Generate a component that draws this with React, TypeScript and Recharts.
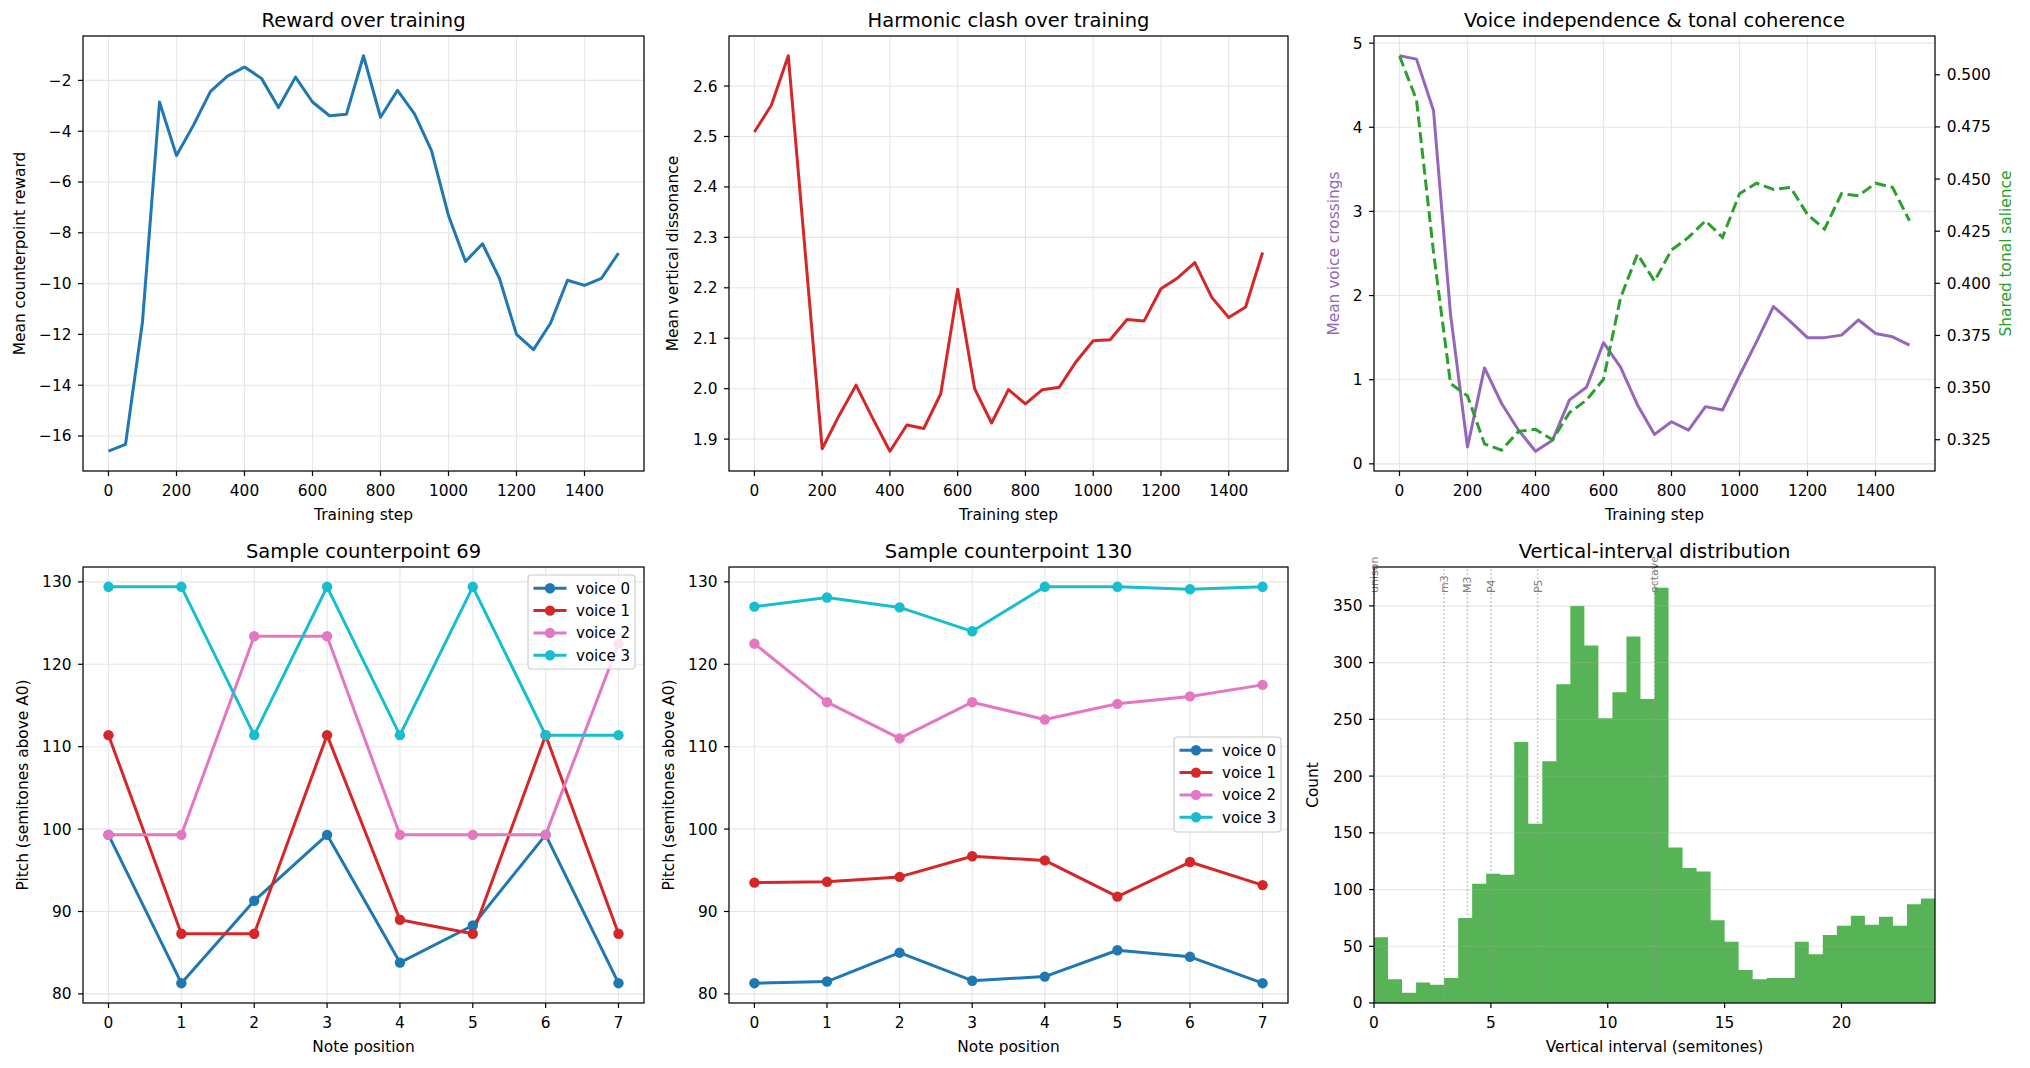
import React from "react"
import { Area, CartesianGrid, ComposedChart, Line, LineChart, ReferenceLine, XAxis, YAxis } from "recharts"

// training curves, logged every 50 steps
const steps = [0, 50, 100, 150, 200, 250, 300, 350, 400, 450, 500, 550, 600, 650, 700, 750, 800, 850, 900, 950, 1000, 1050, 1100, 1150, 1200, 1250, 1300, 1350, 1400, 1450, 1500]
const reward = [-16.6, -16.33, -11.5, -2.85, -4.96, -3.76, -2.43, -1.83, -1.47, -1.92, -3.07, -1.87, -2.85, -3.39, -3.33, -1.03, -3.45, -2.39, -3.32, -4.76, -7.32, -9.13, -8.43, -9.8, -12.0, -12.6, -11.56, -9.87, -10.07, -9.79, -8.8]
const dissonance = [2.509, 2.562, 2.66, 2.27, 1.881, 1.947, 2.007, 1.94, 1.876, 1.928, 1.921, 1.99, 2.197, 2.0, 1.932, 1.998, 1.97, 1.998, 2.003, 2.054, 2.095, 2.097, 2.137, 2.134, 2.198, 2.22, 2.25, 2.181, 2.141, 2.162, 2.27]
const crossings = [4.85, 4.81, 4.2, 1.78, 0.2, 1.14, 0.72, 0.4, 0.15, 0.28, 0.76, 0.91, 1.44, 1.15, 0.7, 0.35, 0.5, 0.4, 0.68, 0.64, 1.05, 1.45, 1.87, 1.69, 1.5, 1.5, 1.53, 1.71, 1.55, 1.51, 1.41]
const salience = [0.509, 0.488, 0.415, 0.352, 0.346, 0.323, 0.32, 0.329, 0.33, 0.325, 0.338, 0.344, 0.354, 0.393, 0.414, 0.401, 0.416, 0.422, 0.43, 0.422, 0.443, 0.448, 0.445, 0.446, 0.433, 0.426, 0.443, 0.442, 0.448, 0.446, 0.43]

const stepTicks = [0, 200, 400, 600, 800, 1000, 1200, 1400]
const rewardTicks = [-16, -14, -12, -10, -8, -6, -4, -2]
const dissonanceTicks = [1.9, 2.0, 2.1, 2.2, 2.3, 2.4, 2.5, 2.6]
const crossingTicks = [0, 1, 2, 3, 4, 5]
const salienceTicks = [0.325, 0.35, 0.375, 0.4, 0.425, 0.45, 0.475, 0.5]

// sample counterpoints (pitch in semitones above A0)
const notePositions = [0, 1, 2, 3, 4, 5, 6, 7]
const voiceNames = ["voice 0", "voice 1", "voice 2", "voice 3"]
const voiceColors = ["#1f77b4", "#d62728", "#e377c2", "#17becf"]
const s69voice0 = [99.3, 81.3, 91.3, 99.3, 83.8, 88.3, 99.3, 81.3]
const s69voice1 = [111.4, 87.3, 87.3, 111.4, 89.0, 87.3, 111.4, 87.3]
const s69voice2 = [99.3, 99.3, 123.4, 123.4, 99.3, 99.3, 99.3, 122.5]
const s69voice3 = [129.4, 129.4, 111.4, 129.4, 111.4, 129.4, 111.4, 111.4]
const s130voice0 = [81.3, 81.5, 85.0, 81.6, 82.1, 85.3, 84.5, 81.3]
const s130voice1 = [93.5, 93.6, 94.2, 96.7, 96.2, 91.8, 96.0, 93.2]
const s130voice2 = [122.5, 115.4, 111.0, 115.4, 113.3, 115.2, 116.1, 117.5]
const s130voice3 = [127.0, 128.1, 126.9, 124.0, 129.4, 129.4, 129.1, 129.4]
const pitchTicks = [80, 90, 100, 110, 120, 130]

// vertical interval histogram, 40 bins of 0.6 semitone (last edge at 24)
const binEdges = [0, 0.6, 1.2, 1.8, 2.4, 3, 3.6, 4.2, 4.8, 5.4, 6, 6.6, 7.2, 7.8, 8.4, 9, 9.6, 10.2, 10.8, 11.4, 12, 12.6, 13.2, 13.8, 14.4, 15, 15.6, 16.2, 16.8, 17.4, 18, 18.6, 19.2, 19.8, 20.4, 21, 21.6, 22.2, 22.8, 23.4, 24]
const binCounts = [58, 21, 9, 18, 16, 22, 75, 105, 114, 113, 230, 158, 213, 281, 350, 315, 251, 274, 323, 268, 366, 137, 119, 116, 73, 54, 29, 21, 22, 22, 54, 43, 60, 68, 77, 69, 76, 68, 87, 92]
const intervalTicks = [0, 5, 10, 15, 20]
const countTicks = [0, 50, 100, 150, 200, 250, 300, 350]
const markerNames = ["unison", "m3", "M3", "P4", "P5", "octave"]
const markerSemitones = [0, 3, 4, 5, 7, 12]

const trainingData = steps.map((step, i) => ({
  step,
  reward: reward[i],
  dissonance: dissonance[i],
  crossings: crossings[i],
  salience: salience[i],
}))

const sampleRows = (voices: number[][]) =>
  notePositions.map((pos, i) => ({ pos, v0: voices[0][i], v1: voices[1][i], v2: voices[2][i], v3: voices[3][i] }))
const sample69 = sampleRows([s69voice0, s69voice1, s69voice2, s69voice3])
const sample130 = sampleRows([s130voice0, s130voice1, s130voice2, s130voice3])
// step-after area: each edge carries the count of the bin it opens, the closing edge repeats the last bin
const histData = binEdges.map((edge, i) => ({ edge, count: binCounts[Math.min(i, binCounts.length - 1)] }))

type Box = { l: number; t: number; r: number; b: number }
const P1: Box = { l: 83, t: 36, r: 644, b: 471 }
const P2: Box = { l: 729, t: 36, r: 1288, b: 471 }
const P3: Box = { l: 1374, t: 36, r: 1935, b: 471 }
const P4: Box = { l: 83, t: 567, r: 644, b: 1003 }
const P5: Box = { l: 729, t: 567, r: 1288, b: 1003 }
const P6: Box = { l: 1374, t: 567, r: 1935, b: 1003 }

const YW = 70
const XH = 40
const M = 20
const RW = 70

const tickStyle = { fontSize: 15.4, fill: "#000" }
const tickLine = { stroke: "#000", strokeWidth: 1.2 }
const gridColor = "#e6e6e6"
const minus = (v: number) => String(v).replace("-", "\u2212")

function place(box: Box, rightW = 0) {
  return {
    left: box.l - YW - M,
    top: box.t - M,
    width: box.r - box.l + YW + rightW + 2 * M,
    height: box.b - box.t + XH + 2 * M,
  }
}

const margin = { top: M, right: M, bottom: M, left: M }

function StepAxis() {
  return (
    <XAxis
      type="number"
      dataKey="step"
      domain={[-75, 1575]}
      ticks={stepTicks}
      allowDataOverflow
      interval={0}
      axisLine={false}
      tickLine={tickLine}
      tickSize={5}
      tickMargin={9}
      tick={tickStyle}
      height={XH}
    />
  )
}

function RewardChart() {
  const p = place(P1)
  return (
    <div style={{ position: "absolute", left: p.left, top: p.top }}>
      <LineChart width={p.width} height={p.height} data={trainingData} margin={margin}>
        <CartesianGrid stroke={gridColor} strokeWidth={1.1} />
        {StepAxis()}
        <YAxis type="number" domain={[-17.3785, -0.2515]} ticks={rewardTicks} allowDataOverflow interval={0}
          axisLine={false} tickLine={tickLine} tickSize={5} tickMargin={6.5} tick={tickStyle} width={YW} tickFormatter={minus} />
        <Line type="linear" dataKey="reward" stroke="#1f77b4" strokeWidth={3} strokeLinejoin="round" dot={false} activeDot={false} isAnimationActive={false} />
      </LineChart>
    </div>
  )
}

function ClashChart() {
  const p = place(P2)
  return (
    <div style={{ position: "absolute", left: p.left, top: p.top }}>
      <LineChart width={p.width} height={p.height} data={trainingData} margin={margin}>
        <CartesianGrid stroke={gridColor} strokeWidth={1.1} />
        {StepAxis()}
        <YAxis type="number" domain={[1.8368, 2.6992]} ticks={dissonanceTicks} allowDataOverflow interval={0}
          axisLine={false} tickLine={tickLine} tickSize={5} tickMargin={6.5} tick={tickStyle} width={YW}
          tickFormatter={(v: number) => v.toFixed(1)} />
        <Line type="linear" dataKey="dissonance" stroke="#d62728" strokeWidth={3} strokeLinejoin="round" dot={false} activeDot={false} isAnimationActive={false} />
      </LineChart>
    </div>
  )
}

function IndependenceChart() {
  const p = place(P3, RW)
  return (
    <div style={{ position: "absolute", left: p.left, top: p.top }}>
      <LineChart width={p.width} height={p.height} data={trainingData} margin={margin}>
        <CartesianGrid stroke={gridColor} strokeWidth={1.1} yAxisId="left" />
        {StepAxis()}
        <YAxis yAxisId="left" type="number" domain={[-0.085, 5.085]} ticks={crossingTicks} allowDataOverflow interval={0}
          axisLine={false} tickLine={tickLine} tickSize={5} tickMargin={6.5} tick={tickStyle} width={YW} />
        <YAxis yAxisId="right" orientation="right" type="number" domain={[0.31, 0.5186]} ticks={salienceTicks} allowDataOverflow interval={0}
          axisLine={false} tickLine={tickLine} tickSize={5} tickMargin={6.7} tick={tickStyle} width={RW}
          tickFormatter={(v: number) => v.toFixed(3)} />
        <Line yAxisId="left" type="linear" dataKey="crossings" stroke="#9467bd" strokeWidth={3} strokeLinejoin="round" dot={false} activeDot={false} isAnimationActive={false} />
        <Line yAxisId="right" type="linear" dataKey="salience" stroke="#2ca02c" strokeWidth={3} strokeDasharray="11 4.9" dot={false} activeDot={false} isAnimationActive={false} />
      </LineChart>
    </div>
  )
}

function SampleChart({ box, data }: { box: Box; data: any[] }) {
  const p = place(box)
  return (
    <div style={{ position: "absolute", left: p.left, top: p.top }}>
      <LineChart width={p.width} height={p.height} data={data} margin={margin}>
        <CartesianGrid stroke={gridColor} strokeWidth={1.1} />
        <XAxis type="number" dataKey="pos" domain={[-0.35, 7.35]} ticks={notePositions} allowDataOverflow interval={0}
          axisLine={false} tickLine={tickLine} tickSize={5} tickMargin={9} tick={tickStyle} height={XH} />
        <YAxis type="number" domain={[78.895, 131.805]} ticks={pitchTicks} allowDataOverflow interval={0}
          axisLine={false} tickLine={tickLine} tickSize={5} tickMargin={6.5} tick={tickStyle} width={YW} />
        {voiceNames.map((name, i) => (
          <Line key={name} type="linear" dataKey={"v" + i} name={name} stroke={voiceColors[i]} strokeWidth={3} strokeLinejoin="round"
            dot={{ r: 5.2, fill: voiceColors[i], stroke: "none" }} activeDot={false} isAnimationActive={false} />
        ))}
      </LineChart>
    </div>
  )
}

function IntervalChart() {
  const p = place(P6)
  return (
    <div style={{ position: "absolute", left: p.left, top: p.top }}>
      <ComposedChart width={p.width} height={p.height} data={histData} margin={margin}>
        <XAxis dataKey="edge" type="number" domain={[0, 24]} ticks={intervalTicks} allowDataOverflow interval={0}
          axisLine={false} tickLine={tickLine} tickSize={5} tickMargin={9} tick={tickStyle} height={XH} />
        <YAxis type="number" domain={[0, 384.3]} ticks={countTicks} allowDataOverflow interval={0}
          axisLine={false} tickLine={tickLine} tickSize={5} tickMargin={6.5} tick={tickStyle} width={YW} />
        <Area type="stepAfter" dataKey="count" baseValue={0} fill="#56b356" fillOpacity={1} stroke="none"
          dot={false} activeDot={false} isAnimationActive={false} />
        {countTicks.map((c) => (
          <ReferenceLine key={"g" + c} y={c} stroke="#b0b0b0" strokeOpacity={0.3} strokeWidth={1.2} />
        ))}
        {markerSemitones.map((s, i) => (
          <ReferenceLine
            key={markerNames[i]}
            x={s}
            stroke="#999999"
            strokeOpacity={0.7}
            strokeWidth={1.5}
            strokeDasharray="1.5 2.5"
            label={(lp: any) => {
              const vb = lp.viewBox || {}
              const top = Math.min(vb.y, vb.y + (vb.height || 0))
              const x = vb.x + 3.9
              const y = top + 26
              return (
                <text x={x} y={y} transform={`rotate(-90 ${x} ${y})`} fontSize={11} fill="#808080">
                  {markerNames[i]}
                </text>
              )
            }}
          />
        ))}
      </ComposedChart>
    </div>
  )
}

const panels = [
  { box: P1, title: "Reward over training", xlabel: "Training step", ylabel: "Mean counterpoint reward", yx: 24.5 },
  { box: P2, title: "Harmonic clash over training", xlabel: "Training step", ylabel: "Mean vertical dissonance", yx: 678 },
  { box: P3, title: "Voice independence & tonal coherence", xlabel: "Training step", ylabel: "Mean voice crossings", yx: 1338.5, ycolor: "#9467bd" },
  { box: P4, title: "Sample counterpoint 69", xlabel: "Note position", ylabel: "Pitch (semitones above A0)", yx: 27.5 },
  { box: P5, title: "Sample counterpoint 130", xlabel: "Note position", ylabel: "Pitch (semitones above A0)", yx: 673.5 },
  { box: P6, title: "Vertical-interval distribution", xlabel: "Vertical interval (semitones)", ylabel: "Count", yx: 1318 },
]

function LegendBox({ x, y, w, h }: { x: number; y: number; w: number; h: number }) {
  return (
    <g>
      <rect x={x} y={y} width={w} height={h} rx={3.5} fill="#fff" fillOpacity={0.8} stroke="#cccccc" strokeWidth={1.2} />
      {voiceNames.map((name, i) => {
        const cy = y + 13.3 + i * 22.3
        return (
          <g key={name}>
            <line x1={x + 5.5} x2={x + 38.5} y1={cy} y2={cy} stroke={voiceColors[i]} strokeWidth={3} />
            <circle cx={x + 22} cy={cy} r={5.2} fill={voiceColors[i]} />
            <text x={x + 48} y={cy + 5.4} fontSize={15}>{name}</text>
          </g>
        )
      })}
    </g>
  )
}

function Overlay() {
  return (
    <svg width={2030} height={1068} style={{ position: "absolute", left: 0, top: 0, pointerEvents: "none" }}>
      {panels.map((pn) => {
        const { l, t, r, b } = pn.box
        const cy = (t + b) / 2
        return (
          <g key={pn.title}>
            <rect x={l} y={t} width={r - l} height={b - t} fill="none" stroke="#000" strokeWidth={1.2} />
            <text x={(l + r) / 2} y={t - 8.7} fontSize={19.5} textAnchor="middle">{pn.title}</text>
            <text x={(l + r) / 2} y={b + 49} fontSize={15.4} textAnchor="middle">{pn.xlabel}</text>
            <text x={pn.yx} y={cy} fontSize={15.4} textAnchor="middle" fill={pn.ycolor || "#000"}
              transform={`rotate(-90 ${pn.yx} ${cy})`}>{pn.ylabel}</text>
          </g>
        )
      })}
      <text x={2011} y={(P3.t + P3.b) / 2} fontSize={15.4} textAnchor="middle" fill="#2ca02c"
        transform={`rotate(-90 2011 ${(P3.t + P3.b) / 2})`}>Shared tonal salience</text>
      <LegendBox x={528} y={575} w={107} h={94} />
      <LegendBox x={1174} y={737} w={107} h={95} />
    </svg>
  )
}

export default function App() {
  return (
    <div style={{ position: "absolute", left: 0, top: 0, width: 2030, height: 1068, background: "#fff", fontFamily: "'DejaVu Sans', sans-serif", overflow: "hidden" }}>
      <RewardChart />
      <ClashChart />
      <IndependenceChart />
      <SampleChart box={P4} data={sample69} />
      <SampleChart box={P5} data={sample130} />
      <IntervalChart />
      <Overlay />
    </div>
  )
}
